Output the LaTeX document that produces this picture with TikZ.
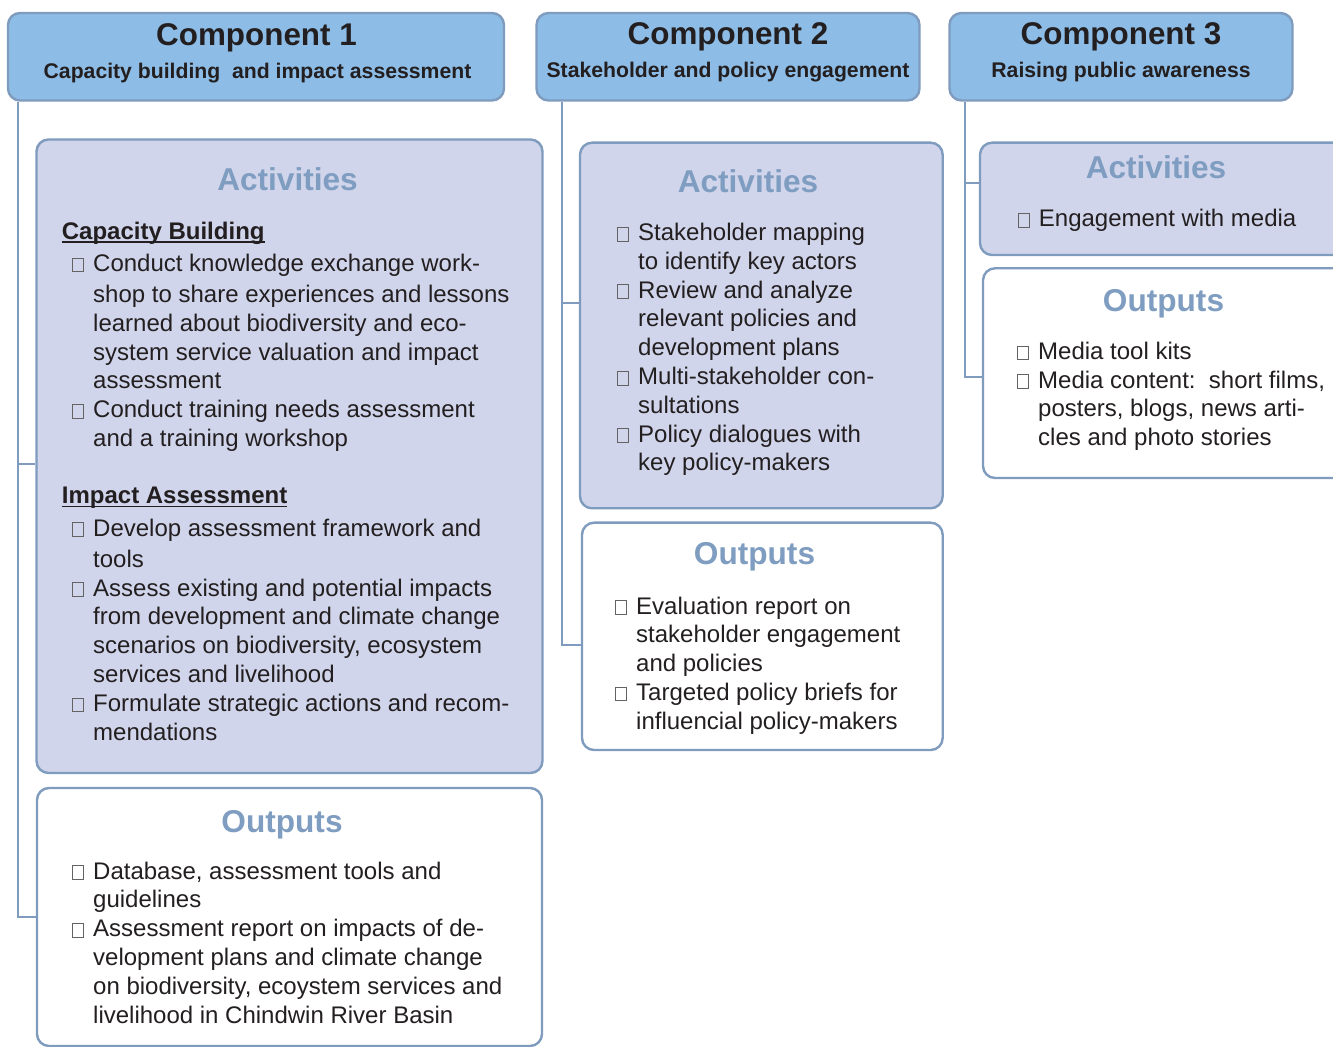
\documentclass[tikz,border=0pt]{standalone}
\usepackage{fontspec}
\setmainfont{Liberation Sans}
\usepackage{tikz}
\usetikzlibrary{fit}

\definecolor{hdrblue}{RGB}{141,189,230}
\definecolor{edgeblue}{RGB}{127,155,190}
\definecolor{actfill}{RGB}{208,213,235}
\definecolor{titleblue}{RGB}{127,157,192}
\definecolor{ink}{RGB}{35,31,32}

\newcommand\tofu{\textcolor{ink!70}{\fboxsep=0pt\fboxrule=0.45pt\fbox{\rule{0pt}{6.4pt}\rule{5pt}{0pt}}}}
\newcommand\itm{\makebox[10.5pt][l]{\tofu}}
\newcommand\indn{\hspace*{10.5pt}}
\newcommand\ulhead[1]{\setbox0\hbox{#1}\rlap{\rule[-1.7pt]{\wd0}{0.9pt}}\box0}

\begin{document}
\begin{tikzpicture}[x=0.5pt, y=-0.5pt, line width=1.2pt,
    hdr/.style={draw=edgeblue, fill=hdrblue, rounded corners=6pt, inner sep=0pt},
    actbox/.style={draw=edgeblue, fill=actfill, rounded corners=6pt, inner sep=0pt},
    outbox/.style={draw=edgeblue, fill=white, rounded corners=6pt, inner sep=0pt},
    link/.style={draw=edgeblue, line width=1pt},
    comptitle/.style={font=\bfseries\fontsize{15.7}{18}\selectfont, text=ink, anchor=base, inner sep=0pt},
    compsub/.style={font=\bfseries\fontsize{10.6}{12.7}\selectfont, text=ink, anchor=base, inner sep=0pt},
    boxtitle/.style={font=\bfseries\fontsize{15.8}{19}\selectfont, text=titleblue, anchor=base, inner sep=0pt},
    subhead/.style={font=\bfseries\fontsize{12}{14.4}\selectfont, text=ink, anchor=base west, inner sep=0pt},
    items/.style={font=\fontsize{12}{14.4}\selectfont, text=ink, anchor=base west, align=left, inner sep=0pt}]
    \clip (0,0) rectangle (1333,1047);

    % component headers
    \node[hdr, fit={(8,13) (504,100.5)}] (c1) {};
    \node[hdr, fit={(536.5,13) (919.5,100.5)}] (c2) {};
    \node[hdr, fit={(949.5,13) (1292.5,100.5)}] (c3) {};
    \node[comptitle] (c1t) at (256.5,46) {Component 1};
    \node[compsub] (c1s) at (257.5,78.7) {Capacity building\ \ and impact assessment};
    \node[comptitle] (c2t) at (728,45) {Component 2};
    \node[compsub] (c2s) at (728,77.5) {Stakeholder and policy engagement};
    \node[comptitle] (c3t) at (1121,45) {Component 3};
    \node[compsub] (c3s) at (1121,78) {Raising public awareness};

    % boxes
    \node[actbox, fit={(36.5,139.5) (542.5,773)}] (act1) {};
    \node[outbox, fit={(37,788) (542,1046)}] (out1) {};
    \node[actbox, fit={(580,142.7) (942.7,508.3)}] (act2) {};
    \node[outbox, fit={(582,522.7) (942.7,750)}] (out2) {};
    \node[actbox, fit={(980,142.7) (1350,255)}] (act3) {};
    \node[outbox, fit={(983,268.3) (1350,478)}] (out3) {};

    % connectors
    \draw[link] ([xshift=5.5pt]c1.south west) |- ([yshift=-4pt]act1.west);
    \draw[link] ([xshift=5.5pt]c1.south west) |- (out1.west);
    \draw[link] ([xshift=13.4pt]c2.south west) |- ([yshift=11.25pt]act2.west);
    \draw[link] ([xshift=13.4pt]c2.south west) |- ([yshift=-4.35pt]out2.west);
    \draw[link] ([xshift=8.25pt]c3.south west) |- ([yshift=8pt]act3.west);
    \draw[link] ([xshift=8.25pt]c3.south west) |- ([yshift=-1.85pt]out3.west);

    % component 1 (item lists sit on the baseline of their last line)
    \node[boxtitle] (act1t) at (287.5,190.7) {Activities};
    \node[subhead] (cap) at (60.7,239.3) {\ulhead{Capacity Building}};
    \node[items] (cap1) at (71,446.5) {\itm Conduct knowledge exchange work-\\[1.1pt]
        \indn shop to share experiences and lessons\\
        \indn learned about biodiversity and eco-\\
        \indn system service valuation and impact\\
        \indn assessment\\
        \itm Conduct training needs assessment\\
        \indn and a training workshop};
    \node[subhead] (imp) at (60.7,504) {\ulhead{Impact Assessment}};
    \node[items] (imp1) at (71,740) {\itm Develop assessment framework and\\[1.1pt]
        \indn tools\\
        \itm Assess existing and potential impacts\\
        \indn from development and climate change\\
        \indn scenarios on biodiversity, ecosystem\\
        \indn services and livelihood\\
        \itm Formulate strategic actions and recom-\\
        \indn mendations};
    \node[boxtitle] (out1t) at (282,832) {Outputs};
    \node[items] (out1i) at (71,1023) {\itm Database, assessment tools and\\
        \indn guidelines\\
        \itm Assessment report on impacts of de-\\
        \indn velopment plans and climate change\\
        \indn on biodiversity, ecoystem services and\\
        \indn livelihood in Chindwin River Basin};

    % component 2
    \node[boxtitle] (act2t) at (748,193) {Activities};
    \node[items] (act2i) at (616,471) {\itm Stakeholder mapping\\
        \indn to identify key actors\\
        \itm Review and analyze\\
        \indn relevant policies and\\
        \indn development plans\\
        \itm Multi-stakeholder con-\\
        \indn sultations\\
        \itm Policy dialogues with\\
        \indn key policy-makers};
    \node[boxtitle] (out2t) at (754.5,565) {Outputs};
    \node[items] (out2i) at (614,729.2) {\itm Evaluation report on\\
        \indn stakeholder engagement\\
        \indn and policies\\
        \itm Targeted policy briefs for\\
        \indn influencial policy-makers};

    % component 3
    \node[boxtitle] (act3t) at (1156,178.3) {Activities};
    \node[items] (act3i) at (1016.7,226.7) {\itm Engagement with media};
    \node[boxtitle] (out3t) at (1163.5,311.7) {Outputs};
    \node[items] (out3i) at (1016,445.7) {\itm Media tool kits\\
        \itm Media content:\ \ short films,\\
        \indn posters, blogs, news arti-\\
        \indn cles and photo stories};
\end{tikzpicture}
\end{document}
